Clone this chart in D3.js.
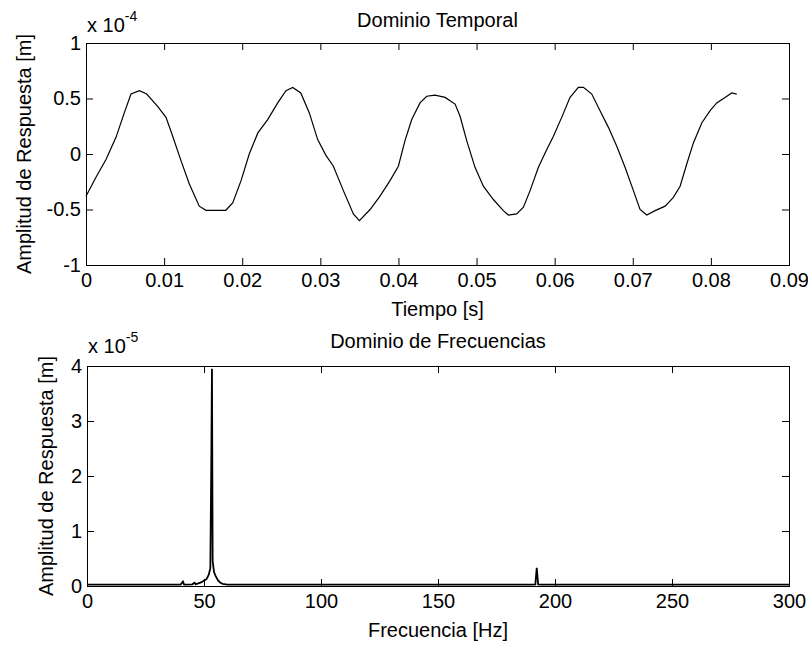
<!DOCTYPE html>
<html>
<head>
<meta charset="utf-8">
<script src="https://cdn.jsdelivr.net/npm/d3@7"></script>
<style>
  body { margin: 0; background: #fff; }
  text { font-family: "Liberation Sans", Arial, sans-serif; fill: #000; }
</style>
</head>
<body>
<svg id="chart" width="808" height="647"></svg>
<script>
// Time response (t in s, amplitude in 1e-4 m)
const timeT = [0, 0.00128, 0.00256, 0.00384, 0.0049, 0.00576, 0.00683, 0.00777, 0.00917, 0.01024,
  0.0110, 0.01216, 0.01323, 0.0145, 0.01536, 0.0179, 0.01878, 0.01985, 0.0209, 0.022,
  0.02326, 0.02454, 0.0256, 0.02646, 0.0275, 0.02859, 0.02966, 0.0307, 0.03167, 0.03295,
  0.03423, 0.035, 0.03637, 0.03764, 0.03892, 0.03999, 0.04084, 0.0417, 0.04276, 0.04362,
  0.04469, 0.04597, 0.04725, 0.04789, 0.04874, 0.0498, 0.05087, 0.05215, 0.05343, 0.05407,
  0.05514, 0.056, 0.05685, 0.05792, 0.05899, 0.05984, 0.0609, 0.06197, 0.06303, 0.06368,
  0.06475, 0.06581, 0.06688, 0.06795, 0.06901, 0.07008, 0.07093, 0.07179, 0.07286, 0.07414,
  0.0752, 0.07606, 0.07691, 0.07776, 0.07883, 0.0799, 0.08075, 0.08181, 0.08267, 0.08331];
const timeAmp = [-0.38, -0.21, -0.05, 0.15, 0.37, 0.54, 0.57, 0.54, 0.43, 0.33,
  0.18, -0.06, -0.27, -0.47, -0.507, -0.507, -0.44, -0.24, 0.0, 0.19,
  0.31, 0.46, 0.57, 0.60, 0.55, 0.37, 0.13, -0.01, -0.11, -0.33,
  -0.54, -0.60, -0.50, -0.38, -0.24, -0.11, 0.12, 0.31, 0.46, 0.52,
  0.53, 0.51, 0.45, 0.34, 0.12, -0.12, -0.29, -0.41, -0.51, -0.55,
  -0.54, -0.48, -0.33, -0.12, 0.04, 0.16, 0.33, 0.51, 0.60, 0.60,
  0.54, 0.39, 0.24, 0.07, -0.12, -0.33, -0.50, -0.55, -0.51, -0.47,
  -0.39, -0.29, -0.09, 0.10, 0.28, 0.39, 0.46, 0.51, 0.55, 0.54];

// Spectrum (Hz, amplitude in 1e-5 m)
const freqHz = [0, 40, 41, 41.5, 42, 45, 46, 46.5, 47, 49, 50, 51, 52, 52.7, 53.1, 53.4, 53.7,
  54.3, 55, 56, 57, 58, 60, 190, 191.6, 192.2, 192.8, 194, 300];
const freqAmp = [0.025, 0.025, 0.08, 0.025, 0.025, 0.03, 0.06, 0.03, 0.04, 0.07, 0.1, 0.12, 0.2, 0.32,
  2.15, 3.95, 0.45, 0.25, 0.18, 0.1, 0.06, 0.04, 0.025, 0.025, 0.03, 0.33, 0.03, 0.025, 0.025];

// Tick labels
const timeTicksX = [0, 0.01, 0.02, 0.03, 0.04, 0.05, 0.06, 0.07, 0.08, 0.09];
const timeTicksY = [-1, -0.5, 0, 0.5, 1];
const freqTicksX = [0, 50, 100, 150, 200, 250, 300];
const freqTicksY = [0, 1, 2, 3, 4];

const svg = d3.select("#chart");
const fontSize = 20;
const tickLen = 7;
const plain = d => String(d); // keep a plain hyphen for negatives, like MATLAB

// Draw one MATLAB-like axes box with inside ticks on all four sides
function drawPanel(opts) {
  const x = d3.scaleLinear().domain(opts.xDomain).range([opts.left, opts.right]);
  const y = d3.scaleLinear().domain(opts.yDomain).range([opts.bottom, opts.top]);
  const g = svg.append("g");

  // bottom axis with labels
  g.append("g")
    .attr("transform", "translate(0," + opts.bottom + ")")
    .call(d3.axisBottom(x).tickValues(opts.xTicks).tickFormat(plain).tickSizeInner(-tickLen).tickSizeOuter(0).tickPadding(8))
    .call(a => a.select(".domain").remove())
    .selectAll("text").style("font-size", fontSize + "px");

  // top ticks only
  g.append("g")
    .attr("transform", "translate(0," + opts.top + ")")
    .call(d3.axisTop(x).tickValues(opts.xTicks).tickFormat("").tickSizeInner(-tickLen).tickSizeOuter(0))
    .call(a => a.select(".domain").remove());

  // left axis with labels
  g.append("g")
    .attr("transform", "translate(" + opts.left + ",0)")
    .call(d3.axisLeft(y).tickValues(opts.yTicks).tickFormat(plain).tickSizeInner(-tickLen).tickSizeOuter(0).tickPadding(5))
    .call(a => a.select(".domain").remove())
    .selectAll("text").style("font-size", fontSize + "px");

  // right ticks only
  g.append("g")
    .attr("transform", "translate(" + opts.right + ",0)")
    .call(d3.axisRight(y).tickValues(opts.yTicks).tickFormat("").tickSizeInner(-tickLen).tickSizeOuter(0))
    .call(a => a.select(".domain").remove());

  g.selectAll(".tick line").attr("stroke", "#000");
  g.selectAll(".tick text").attr("fill", "#000").style("font-family", "Liberation Sans, Arial, sans-serif");

  // box
  g.append("rect")
    .attr("x", opts.left + 0.5).attr("y", opts.top + 0.5)
    .attr("width", opts.right - opts.left).attr("height", opts.bottom - opts.top)
    .attr("fill", "none").attr("stroke", "#000").attr("stroke-width", 1);

  // data line
  const pts = opts.xs.map((v, i) => [v, opts.ys[i]]);
  g.append("path")
    .datum(pts)
    .attr("fill", "none")
    .attr("stroke", "#000")
    .attr("stroke-width", opts.lineWidth)
    .attr("d", d3.line().x(d => x(d[0])).y(d => y(d[1])));

  // title
  g.append("text")
    .attr("x", (opts.left + opts.right) / 2).attr("y", opts.titleY)
    .attr("text-anchor", "middle").style("font-size", fontSize + "px")
    .text(opts.title);

  // x label
  g.append("text")
    .attr("x", (opts.left + opts.right) / 2).attr("y", opts.xLabelY)
    .attr("text-anchor", "middle").style("font-size", fontSize + "px")
    .text(opts.xLabel);

  // y label
  g.append("text")
    .attr("transform", "translate(" + opts.yLabelX + "," + (opts.top + opts.bottom) / 2 + ") rotate(-90)")
    .attr("text-anchor", "middle").style("font-size", fontSize + "px")
    .text("Amplitud de Respuesta [m]");

  // exponent label
  const ex = g.append("text")
    .attr("x", opts.left + 1).attr("y", opts.expY)
    .style("font-size", fontSize + "px");
  ex.append("tspan").text("x 10");
  ex.append("tspan").attr("dy", -11).style("font-size", "14px").text(opts.exponent);
}

drawPanel({
  left: 86, right: 789, top: 43, bottom: 265,
  xDomain: [0, 0.09], yDomain: [-1, 1],
  xTicks: timeTicksX, yTicks: timeTicksY,
  xs: timeT, ys: timeAmp, lineWidth: 1.2,
  title: "Dominio Temporal", titleY: 27,
  xLabel: "Tiempo [s]", xLabelY: 316,
  yLabelX: 31, expY: 32, exponent: "-4"
});

drawPanel({
  left: 87, right: 789, top: 366, bottom: 586,
  xDomain: [0, 300], yDomain: [0, 4],
  xTicks: freqTicksX, yTicks: freqTicksY,
  xs: freqHz, ys: freqAmp, lineWidth: 1.8,
  title: "Dominio de Frecuencias", titleY: 348,
  xLabel: "Frecuencia [Hz]", xLabelY: 637,
  yLabelX: 53, expY: 353, exponent: "-5"
});
</script>
</body>
</html>
